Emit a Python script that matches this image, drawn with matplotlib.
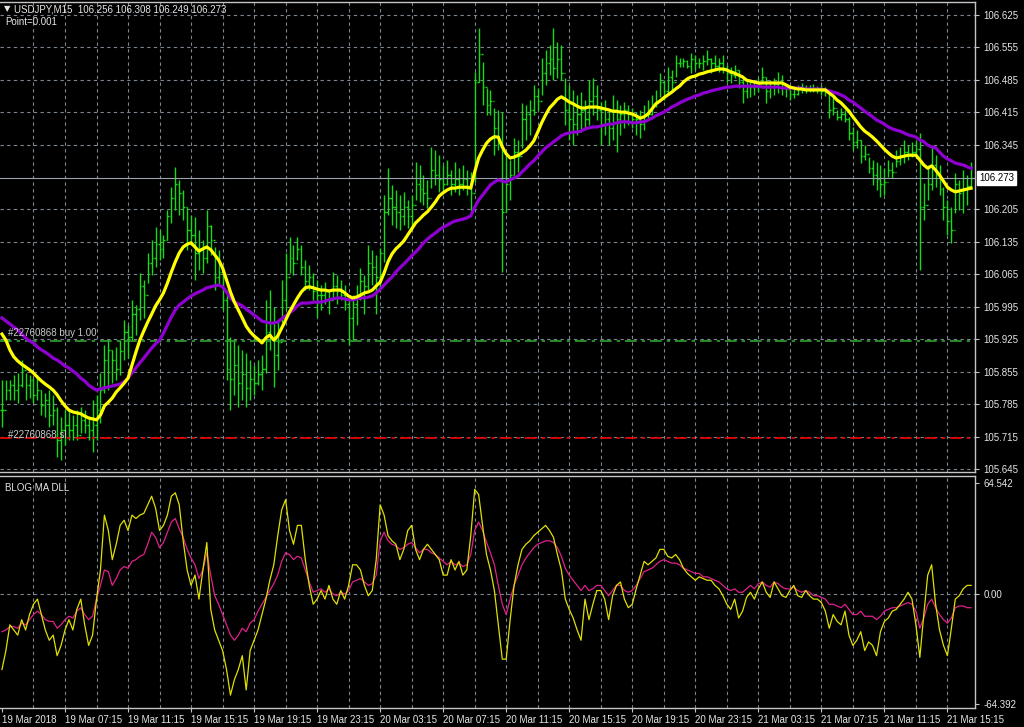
import numpy as np
import pandas as pd
import matplotlib
matplotlib.use("Agg")
import matplotlib.pyplot as plt
from matplotlib import transforms

# USDJPY M15, prices kept as points (0.001) above 106.000
high_pts = [
    -163, -163, -163, -152, -148, -120, -148, -152, -159, -152,
    -185, -191, -185, -195, -221, -243, -228, -228, -239, -228,
    -221, -228, -243, -206, -195, -148, -88, -77, -98, -92,
    -77, -33, -44, 10, -1, 68, 53, 111, 139, 167,
    161, 150, 204, 253, 297, 269, 247, 210, 193, 189,
    161, 139, 204, 172, 124, 118, 68, 31, -70, -77,
    -88, -98, -105, -120, -130, -120, -109, 10, 31, -5,
    -33, 53, 111, 146, 129, 146, 129, 96, 85, 68,
    53, 42, 48, 31, 70, 64, 53, 42, 10, 20,
    42, 79, 64, 128, 118, 107, 122, 236, 295, 258,
    247, 236, 243, 225, 236, 307, 301, 279, 269, 340,
    333, 323, 301, 312, 290, 307, 294, 301, 290, 286,
    502, 597, 523, 467, 463, 424, 420, 415, 322, 312,
    359, 355, 435, 430, 441, 474, 467, 532, 549, 560,
    597, 566, 560, 489, 474, 463, 452, 458, 441, 485,
    489, 474, 437, 441, 420, 452, 441, 430, 437, 430,
    424, 415, 420, 430, 441, 452, 463, 499, 485, 512,
    506, 538, 532, 532, 528, 543, 538, 532, 538, 549,
    532, 538, 532, 538, 517, 512, 517, 506, 491, 485,
    485, 480, 489, 512, 491, 485, 489, 502, 495, 474,
    463, 467, 474, 478, 474, 474, 476, 471, 474, 469,
    463, 452, 420, 424, 420, 404, 383, 377, 355, 344,
    318, 312, 307, 301, 294, 312, 307, 333, 340, 355,
    344, 351, 355, 370, 262, 301, 340, 323, 301, 253,
    225, 210, 284, 269, 290, 279, 308,
]
low_pts = [
    -264, -206, -206, -206, -213, -178, -206, -202, -213, -206,
    -239, -243, -264, -260, -329, -336, -303, -293, -293, -293,
    -277, -277, -293, -318, -293, -256, -191, -185, -170, -163,
    -152, -120, -116, -77, -66, -33, -29, 46, 64, 81,
    96, 100, 139, 176, 204, 193, 183, 118, 128, 53,
    75, 68, 89, 107, 31, 42, -12, -163, -228, -195,
    -221, -206, -221, -206, -195, -174, -185, -148, -98, -178,
    -141, -40, -12, 68, 64, 96, 64, 31, 31, 10,
    -27, -12, 1, -21, 10, 1, 10, -12, -88, -77,
    -44, 10, -21, 31, 42, -21, 31, 92, 193, 171,
    165, 161, 171, 165, 171, 225, 221, 215, 208, 251,
    258, 243, 247, 258, 236, 243, 236, 247, 236, 200,
    264, 480, 430, 409, 409, 322, 333, 70, 200, 225,
    279, 286, 338, 355, 366, 409, 420, 452, 474, 495,
    485, 489, 485, 387, 355, 344, 366, 372, 377, 387,
    409, 398, 344, 366, 344, 355, 329, 366, 381, 387,
    381, 366, 359, 377, 398, 409, 426, 448, 442, 456,
    463, 491, 512, 512, 510, 499, 506, 510, 506, 517,
    499, 506, 502, 499, 480, 478, 489, 467, 435, 445,
    448, 452, 458, 478, 435, 445, 452, 456, 452, 448,
    441, 445, 452, 456, 456, 458, 458, 456, 452, 450,
    402, 409, 398, 398, 394, 355, 333, 338, 305, 312,
    284, 258, 247, 232, 236, 275, 273, 297, 301, 305,
    312, 318, 318, 74, 182, 225, 247, 253, 236, 182,
    150, 133, 197, 204, 197, 215, 249,
]
close_pts = [
    -228, -185, -174, -185, -174, -141, -174, -163, -195, -185,
    -217, -206, -239, -228, -293, -271, -260, -271, -260, -282,
    -249, -260, -271, -260, -228, -185, -120, -98, -120, -140,
    -100, -60, -70, -20, -10, 40, 20, 90, 100, 130,
    120, 140, 190, 230, 260, 240, 210, 160, 150, 110,
    120, 100, 170, 140, 60, 70, 10, -140, -160, -130,
    -170, -150, -180, -160, -170, -150, -140, -60, -40, -110,
    -80, 10, 60, 100, 90, 120, 80, 50, 60, 30,
    20, 20, 30, 10, 40, 30, 20, 0, -30, 0,
    20, 50, 40, 90, 80, 60, 110, 200, 230, 210,
    200, 190, 210, 190, 215, 260, 250, 240, 230, 290,
    280, 270, 260, 280, 260, 270, 260, 270, 255, 240,
    480, 540, 470, 430, 440, 380, 350, 200, 260, 280,
    330, 320, 400, 410, 420, 450, 440, 500, 520, 530,
    510, 530, 500, 420, 400, 390, 410, 420, 400, 440,
    450, 420, 390, 400, 380, 420, 400, 410, 420, 410,
    400, 400, 390, 410, 410, 430, 440, 480, 460, 490,
    480, 520, 520, 525, 515, 530, 520, 520, 525, 530,
    520, 515, 520, 510, 500, 495, 505, 480, 460, 470,
    470, 470, 475, 490, 460, 470, 475, 480, 470, 465,
    455, 455, 465, 470, 465, 465, 468, 462, 460, 458,
    420, 425, 405, 410, 400, 370, 350, 355, 320, 325,
    295, 280, 270, 260, 265, 290, 285, 310, 320, 330,
    325, 330, 335, 210, 215, 260, 300, 280, 250, 210,
    180, 160, 260, 240, 250, 256, 273,
]
# yellow and purple moving averages
ma_fast_pts = [
    -64, -77, -98, -113, -122, -129, -135, -141, -148, -157,
    -165, -172, -178, -185, -195, -208, -219, -228, -232, -234,
    -236, -241, -245, -247, -249, -239, -219, -211, -202, -189,
    -180, -170, -159, -131, -103, -77, -57, -38, -21, -3,
    10, 25, 46, 70, 92, 111, 124, 130, 133, 124,
    115, 120, 124, 118, 107, 96, 79, 53, 27, 5,
    -12, -29, -47, -59, -68, -75, -83, -72, -66, -77,
    -68, -51, -34, -16, -1, 14, 27, 36, 38, 36,
    33, 31, 31, 29, 31, 31, 31, 25, 18, 14,
    16, 20, 25, 27, 31, 40, 48, 68, 92, 109,
    120, 128, 137, 150, 163, 176, 184, 193, 200, 210,
    221, 234, 241, 247, 251, 251, 253, 253, 253, 251,
    286, 316, 333, 348, 357, 362, 361, 340, 325, 316,
    318, 322, 327, 333, 342, 353, 372, 392, 409, 424,
    433, 443, 448, 443, 437, 433, 428, 424, 424, 426,
    426, 426, 424, 422, 420, 417, 417, 415, 415, 413,
    411, 407, 402, 405, 411, 422, 433, 439, 446, 452,
    458, 465, 471, 480, 487, 491, 493, 497, 499, 502,
    504, 506, 508, 508, 506, 502, 499, 495, 491, 484,
    482, 480, 478, 478, 478, 478, 478, 478, 478, 474,
    469, 467, 465, 465, 463, 463, 463, 463, 463, 463,
    456, 450, 441, 435, 426, 417, 405, 394, 383, 374,
    368, 361, 353, 344, 335, 327, 320, 316, 318, 320,
    322, 322, 322, 312, 301, 294, 299, 290, 279, 266,
    253, 247, 243, 245, 247, 249, 251,
]
ma_slow_pts = [
    -29, -36, -42, -49, -55, -64, -72, -79, -83, -92,
    -98, -103, -109, -116, -120, -126, -133, -137, -144, -150,
    -159, -165, -174, -180, -185, -182, -180, -178, -176, -174,
    -172, -167, -159, -148, -137, -126, -116, -105, -94, -85,
    -77, -62, -44, -27, -12, -1, 5, 12, 18, 23,
    27, 31, 36, 38, 40, 42, 38, 27, 14, 5,
    1, -3, -10, -16, -23, -29, -36, -38, -40, -40,
    -38, -31, -25, -18, -12, -3, 3, 3, 3, 5,
    5, 5, 7, 10, 12, 14, 14, 12, 10, 10,
    12, 14, 14, 16, 18, 25, 33, 42, 51, 59,
    70, 79, 87, 96, 105, 113, 122, 133, 141, 148,
    154, 161, 167, 171, 176, 180, 182, 184, 187, 191,
    210, 225, 236, 247, 258, 264, 269, 266, 264, 269,
    273, 277, 286, 294, 303, 310, 320, 329, 338, 344,
    351, 357, 364, 368, 370, 372, 372, 374, 379, 381,
    383, 383, 385, 387, 389, 389, 392, 394, 394, 394,
    392, 392, 394, 394, 398, 402, 407, 411, 415, 420,
    426, 430, 435, 439, 443, 446, 450, 452, 456, 458,
    461, 463, 465, 467, 469, 469, 471, 471, 471, 471,
    471, 471, 471, 469, 469, 469, 469, 469, 467, 467,
    467, 467, 467, 467, 465, 465, 465, 465, 465, 463,
    461, 458, 456, 452, 448, 441, 437, 430, 424, 417,
    411, 405, 398, 394, 389, 383, 379, 376, 374, 370,
    366, 364, 361, 355, 351, 344, 340, 338, 329, 320,
    314, 310, 305, 303, 301, 297, 294,
]
# BLOG MA DLL sub window
dll_fast = [
    -44, -33, -18, -21, -24, -15, -21, -12, -6, -3,
    -12, -21, -27, -24, -36, -30, -21, -15, -21, -9,
    -3, -18, -30, -24, -3, 14, 46, 37, 20, 29,
    40, 43, 37, 46, 44, 46, 47, 52, 57, 50,
    37, 40, 46, 57, 59, 52, 31, 14, 5, 11,
    -3, 14, 30, -9, -21, -27, -33, -44, -59, -50,
    -44, -36, -56, -33, -27, -21, -12, -3, 8, 17,
    34, 49, 55, 37, 29, 40, 40, 20, 5, -6,
    -3, 2, -3, 5, -3, -6, 2, -3, 5, 17,
    17, 14, 5, -1, 2, 20, 52, 46, 34, 31,
    29, 20, 26, 37, 40, 26, 20, 26, 29, 26,
    23, 20, 11, 11, 20, 14, 19, 11, 14, 34,
    61, 58, 40, 23, 14, 2, -18, -38, -38, -15,
    5, 17, 26, 29, 31, 34, 36, 38, 40, 37,
    33, 23, 14, -3, -9, -14, -21, -27, -3, -15,
    -6, 2, 2, -3, -15, -1, 5, 7, -3, -8,
    -6, 3, 11, 19, 17, 19, 21, 26, 26, 22,
    21, 23, 20, 15, 12, 10, 8, 10, 9, 8,
    8, 5, 3, -1, -6, -9, -3, -14, -10, -2,
    1, -3, 3, 7, 1, -2, 7, 3, -1, -2,
    2, 5, -1, -2, 2, -1, -3, -3, -5, -10,
    -20, -12, -16, -18, -10, -24, -30, -27, -22, -33,
    -28, -30, -36, -22, -16, -14, -10, -9, -6, -3,
    1, -3, -18, -37, -12, 11, 17, -6, -21, -30,
    -36, -20, -3, -1, 3, 5, 5,
]
dll_slow = [
    -22, -21, -19, -19, -20, -17, -18, -15, -12, -10,
    -12, -15, -16, -16, -20, -18, -15, -13, -14, -10,
    -8, -12, -15, -13, -3, 5, 14, 13, 5, 9,
    14, 16, 15, 19, 20, 22, 23, 29, 36, 33,
    27, 30, 36, 42, 44, 38, 33, 26, 21, 17,
    9, 14, 24, 11, -1, -6, -12, -18, -24, -27,
    -24, -20, -22, -17, -15, -10, -6, -2, 2, 6,
    11, 19, 24, 23, 20, 22, 21, 14, 7, 1,
    2, 3, 1, 3, 0, -1, 1, 0, 2, 7,
    8, 9, 7, 5, 6, 11, 31, 36, 31, 29,
    28, 26, 27, 29, 30, 27, 24, 26, 26, 24,
    23, 21, 19, 17, 19, 17, 18, 16, 17, 23,
    37, 42, 37, 30, 24, 17, 5, -6, -12, -3,
    5, 11, 17, 21, 24, 27, 29, 30, 31, 31,
    30, 27, 22, 15, 11, 8, 5, 2, 5, 2,
    3, 5, 5, 2, -1, 2, 5, 5, 2, 1,
    2, 5, 9, 13, 14, 15, 17, 19, 20, 19,
    18, 18, 17, 15, 14, 13, 12, 12, 10, 10,
    9, 8, 7, 5, 3, 2, 3, 1, 1, 3,
    5, 3, 6, 7, 5, 4, 7, 6, 4, 3,
    3, 4, 2, 1, 2, 1, -1, -1, -2, -3,
    -6, -6, -7, -8, -6, -9, -12, -12, -10, -13,
    -13, -13, -15, -13, -10, -9, -8, -8, -7, -6,
    -5, -6, -10, -20, -14, -6, -3, -8, -12, -15,
    -17, -14, -8, -7, -7, -8, -8,
]

symbol = "USDJPY,M15"
start_time = "2018-03-19 03:15"
order_id = "#22760868"
buy_price = 105.921
sl_price = 105.711
price_ticks = [106.625, 106.555, 106.485, 106.415, 106.345, 106.205, 106.135,
               106.065, 105.995, 105.925, 105.855, 105.785, 105.715, 105.645]
dll_ticks = [64.542, 0.0, -64.392]

base = 106.0
high = base + np.array(high_pts) / 1000
low = base + np.array(low_pts) / 1000
close = base + np.array(close_pts) / 1000
ma_fast = base + np.array(ma_fast_pts) / 1000
ma_slow = base + np.array(ma_slow_pts) / 1000
n = len(close)
assert all(len(a) == n for a in (high, low, ma_fast, ma_slow, dll_fast, dll_slow))
open_ = np.r_[close[0], close[:-1]]
x = np.arange(n)

times = pd.date_range(start_time, periods=n, freq="15min")
lab_idx = list(range(0, n, 16))
lab_txt = [times[0].strftime("%d %b %Y")] + [times[i].strftime("%d %b %H:%M") for i in lab_idx[1:]]

W, H = 1024, 727
BG = "black"
FG = "#e6e6e6"
GRID = "#7d8590"
SPINE = "#c4c4c4"
BAR = "#14dc14"
plt.rcParams["font.family"] = ["Liberation Sans", "DejaVu Sans"]

fig = plt.figure(figsize=(W / 100, H / 100), dpi=100, facecolor=BG)
ax = fig.add_axes([0, 1 - 472 / H, 975 / W, 470 / H], facecolor=BG)
ax2 = fig.add_axes([0, 1 - 708 / H, 975 / W, 232 / H], facecolor=BG)

for a in (ax, ax2):
    a.set_xlim(-0.5, 247)
    a.spines["left"].set_visible(False)
    for s in ("top", "bottom", "right"):
        a.spines[s].set_color(SPINE)
        a.spines[s].set_linewidth(1)
    a.yaxis.tick_right()
    a.tick_params(axis="y", colors=SPINE, labelcolor=FG, labelsize=7, length=3, pad=3)
    for gx in range(8, n, 8):
        a.axvline(gx, color=GRID, lw=0.8, ls=(0, (3, 3)), zorder=1)

ax.set_ylim(105.6384, 106.6527)
ax2.set_ylim(-66.5, 68.8)

# price grid
for p in price_ticks:
    ax.axhline(p, color=GRID, lw=0.8, ls=(0, (3, 3)), zorder=1)
ax2.axhline(0, color=GRID, lw=0.8, ls=(0, (3, 3)), zorder=1)

# bars
ax.vlines(x, low, high, color=BAR, lw=1.0, zorder=2)
ax.hlines(open_, x - 0.4, x, color=BAR, lw=1.0, zorder=2)
ax.hlines(close, x, x + 0.4, color=BAR, lw=1.0, zorder=2)

ax.plot(x, ma_slow, color="#9000d2", lw=2.3, zorder=3)
ax.plot(x, ma_fast, color="#ffff00", lw=2.3, zorder=4)

# order levels and bid line
ax.axhline(buy_price, color="#2ea52e", lw=1.2, ls=(0, (7, 3, 2, 3)), zorder=2)
ax.axhline(sl_price, color="#ee0000", lw=1.2, ls=(0, (7, 3, 2, 3)), zorder=2)
ax.axhline(close[-1], color="#9aa3ad", lw=0.8, zorder=2)

ax.set_xticks([])
ax.set_yticks(price_ticks)
ax.set_yticklabels([f"{p:.3f}" for p in price_ticks])
tr = transforms.blended_transform_factory(ax.transAxes, ax.transData)
ax.text(1.004, close[-1], f"{close[-1]:.3f}", transform=tr, ha="left", va="center",
        fontsize=7, color="black", clip_on=False,
        bbox=dict(boxstyle="square,pad=0.2", fc="white", ec="white"))

# sub window
ax2.plot(x, dll_slow, color="#e0208c", lw=0.9, zorder=3)
ax2.plot(x, dll_fast, color="#e0e000", lw=0.9, zorder=4)
ax2.set_yticks(dll_ticks)
ax2.set_yticklabels(["64.542", "0.00", "-64.392"])
ax2.set_xticks(lab_idx)
ax2.set_xticklabels(lab_txt, ha="left")
ax2.tick_params(axis="x", colors=SPINE, labelcolor=FG, labelsize=7, length=3, pad=2)

# labels
def fxy(px, py):
    return px / W, 1 - py / H

fig.text(*fxy(4, 9), "\u25bc", fontsize=6, color=FG, va="center", family="DejaVu Sans")
fig.text(*fxy(14, 9), f"{symbol}  {open_[-1]:.3f} {high[-1]:.3f} {low[-1]:.3f} {close[-1]:.3f}",
         fontsize=7, color=FG, va="center")
fig.text(*fxy(5, 22), "Point=0.001", fontsize=7, color=FG, va="center")
fig.text(*fxy(8, 333), f"{order_id} buy 1.00", fontsize=7, color="#c8c8c8", va="center")
fig.text(*fxy(8, 435), f"{order_id} sl", fontsize=7, color="#c8c8c8", va="center")
fig.text(*fxy(5, 488), "BLOG MA DLL", fontsize=7, color=FG, va="center")

fig.savefig("out.png", dpi=100, facecolor=BG)
